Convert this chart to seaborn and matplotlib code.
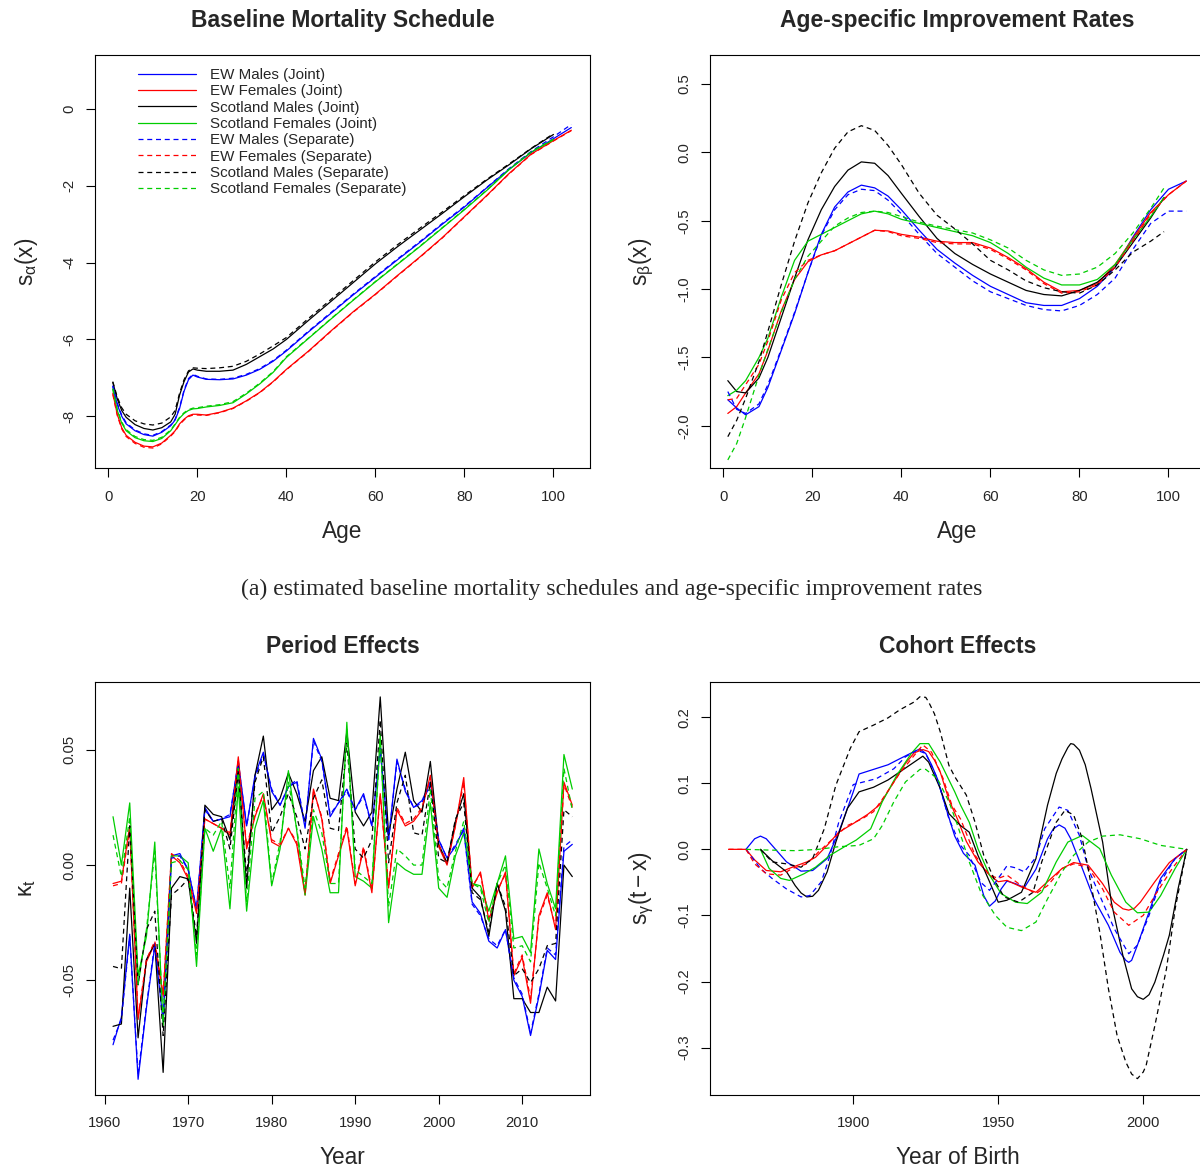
import numpy as np
import pandas as pd
import matplotlib
matplotlib.use("Agg")
import matplotlib.pyplot as plt
import seaborn as sns

# ---------------------------------------------------------------- series
SERIES = [
    "EW Males (Joint)", "EW Females (Joint)",
    "Scotland Males (Joint)", "Scotland Females (Joint)",
    "EW Males (Separate)", "EW Females (Separate)",
    "Scotland Males (Separate)", "Scotland Females (Separate)",
]
COLOURS = ["#0000FF", "#FF0000", "#000000", "#00CD00"] * 2
DASHES = [""] * 4 + [(4, 3)] * 4

# ---------------------------------------------------------------- baseline mortality s_alpha(x)
age_a_ew = [1, 2, 3, 4, 6, 8, 10, 12, 14, 15, 16, 17, 18, 19, 20, 22, 25, 28, 31, 34,
            37, 40, 45, 50, 55, 60, 65, 70, 75, 80, 85, 90, 95, 100, 104]
age_a_sc = age_a_ew[:-1]

alpha_ewm_joint = [-7.23, -7.70, -8.00, -8.20, -8.38, -8.48, -8.52, -8.42, -8.25, -8.10,
                   -7.80, -7.35, -7.05, -6.93, -6.98, -7.04, -7.05, -7.03, -6.93, -6.78,
                   -6.57, -6.30, -5.80, -5.32, -4.84, -4.38, -3.92, -3.47, -3.00, -2.55,
                   -2.05, -1.57, -1.13, -0.77, -0.48]
alpha_ewf_joint = [-7.40, -7.95, -8.30, -8.50, -8.68, -8.78, -8.80, -8.70, -8.50, -8.38,
                   -8.20, -8.08, -7.99, -7.95, -7.95, -7.97, -7.90, -7.79, -7.60, -7.38,
                   -7.10, -6.78, -6.30, -5.78, -5.28, -4.82, -4.33, -3.85, -3.35, -2.80,
                   -2.25, -1.68, -1.17, -0.82, -0.55]
alpha_scm_joint = [-7.12, -7.55, -7.85, -8.03, -8.22, -8.32, -8.36, -8.30, -8.15, -7.95,
                   -7.45, -7.10, -6.85, -6.77, -6.80, -6.83, -6.83, -6.80, -6.65, -6.45,
                   -6.25, -6.00, -5.50, -5.01, -4.52, -4.03, -3.58, -3.15, -2.72, -2.28,
                   -1.85, -1.45, -1.03, -0.66]
alpha_scf_joint = [-7.30, -7.85, -8.18, -8.38, -8.56, -8.64, -8.66, -8.58, -8.38, -8.22,
                   -8.05, -7.93, -7.85, -7.81, -7.80, -7.76, -7.72, -7.65, -7.42, -7.16,
                   -6.86, -6.47, -5.97, -5.47, -4.98, -4.50, -4.04, -3.58, -3.10, -2.62,
                   -2.12, -1.58, -1.12, -0.80]
alpha_ewm_sep = [-7.20, -7.66, -7.97, -8.17, -8.36, -8.46, -8.50, -8.40, -8.23, -8.08,
                 -7.77, -7.32, -7.02, -6.91, -6.96, -7.03, -7.04, -7.01, -6.91, -6.76,
                 -6.55, -6.28, -5.78, -5.30, -4.82, -4.36, -3.90, -3.45, -2.98, -2.53,
                 -2.04, -1.55, -1.10, -0.72, -0.40]
alpha_ewf_sep = [-7.43, -7.98, -8.33, -8.53, -8.71, -8.81, -8.83, -8.72, -8.52, -8.40,
                 -8.22, -8.10, -8.01, -7.97, -7.97, -7.98, -7.91, -7.80, -7.61, -7.39,
                 -7.11, -6.79, -6.31, -5.79, -5.29, -4.83, -4.34, -3.86, -3.36, -2.81,
                 -2.26, -1.69, -1.18, -0.83, -0.56]
alpha_scm_sep = [-7.10, -7.50, -7.78, -7.95, -8.12, -8.20, -8.23, -8.18, -8.02, -7.85,
                 -7.40, -7.05, -6.82, -6.74, -6.75, -6.76, -6.74, -6.70, -6.57, -6.38,
                 -6.17, -5.95, -5.45, -4.96, -4.47, -3.98, -3.53, -3.10, -2.68, -2.25,
                 -1.83, -1.43, -1.02, -0.64]
alpha_scf_sep = [-7.28, -7.82, -8.15, -8.35, -8.53, -8.61, -8.63, -8.55, -8.36, -8.20,
                 -8.03, -7.91, -7.83, -7.79, -7.78, -7.74, -7.70, -7.62, -7.40, -7.14,
                 -6.84, -6.45, -5.96, -5.46, -4.97, -4.49, -4.03, -3.57, -3.09, -2.61,
                 -2.11, -1.57, -1.11, -0.78]

# ---------------------------------------------------------------- improvement rates s_beta(x)
age_b_ew = [1, 3, 5, 8, 10, 13, 16, 19, 22, 25, 28, 31, 34, 37, 40, 44, 48, 52, 56, 60,
            64, 68, 72, 76, 80, 84, 88, 92, 96, 100, 104]
age_b_sc = age_b_ew[:-2] + [99]

beta_ewm_joint = [-1.81, -1.87, -1.92, -1.86, -1.72, -1.45, -1.18, -0.88, -0.60, -0.40,
                  -0.29, -0.24, -0.26, -0.32, -0.42, -0.57, -0.71, -0.81, -0.90, -0.98,
                  -1.04, -1.10, -1.12, -1.12, -1.07, -0.98, -0.84, -0.62, -0.42, -0.27,
                  -0.21]
beta_ewf_joint = [-1.91, -1.86, -1.76, -1.62, -1.45, -1.16, -0.93, -0.80, -0.75, -0.72,
                  -0.67, -0.62, -0.57, -0.575, -0.60, -0.62, -0.65, -0.66, -0.66, -0.70,
                  -0.77, -0.85, -0.95, -1.02, -1.01, -0.96, -0.82, -0.63, -0.44, -0.31,
                  -0.21]
beta_scm_joint = [-1.67, -1.75, -1.76, -1.65, -1.50, -1.21, -0.92, -0.64, -0.42, -0.25,
                  -0.13, -0.07, -0.08, -0.17, -0.30, -0.47, -0.63, -0.74, -0.82, -0.89,
                  -0.95, -1.01, -1.04, -1.05, -1.01, -0.95, -0.84, -0.66, -0.48, -0.33]
beta_scf_joint = [-1.78, -1.74, -1.67, -1.50, -1.36, -1.06, -0.79, -0.65, -0.60, -0.55,
                  -0.50, -0.45, -0.43, -0.45, -0.49, -0.52, -0.55, -0.58, -0.61, -0.66,
                  -0.74, -0.84, -0.92, -0.97, -0.97, -0.93, -0.82, -0.64, -0.47, -0.33]
beta_ewm_sep = [-1.75, -1.88, -1.91, -1.84, -1.70, -1.44, -1.17, -0.88, -0.61, -0.42,
                -0.31, -0.27, -0.28, -0.35, -0.45, -0.60, -0.74, -0.84, -0.94, -1.02,
                -1.07, -1.12, -1.15, -1.16, -1.12, -1.04, -0.92, -0.71, -0.52, -0.43,
                -0.43]
beta_ewf_sep = [-1.81, -1.80, -1.70, -1.55, -1.38, -1.08, -0.88, -0.79, -0.75, -0.72,
                -0.67, -0.62, -0.57, -0.58, -0.61, -0.63, -0.66, -0.67, -0.67, -0.71,
                -0.78, -0.86, -0.96, -1.03, -1.02, -0.97, -0.84, -0.65, -0.45, -0.31,
                -0.21]
beta_scm_sep = [-2.08, -1.96, -1.80, -1.53, -1.31, -0.97, -0.65, -0.37, -0.15, 0.03,
                0.15, 0.195, 0.16, 0.05, -0.09, -0.30, -0.46, -0.56, -0.67, -0.79,
                -0.86, -0.94, -0.99, -1.02, -1.03, -0.97, -0.86, -0.73, -0.65, -0.58]
beta_scf_sep = [-2.25, -2.13, -1.94, -1.63, -1.44, -1.17, -0.93, -0.76, -0.65, -0.54,
                -0.48, -0.44, -0.43, -0.44, -0.47, -0.51, -0.54, -0.565, -0.59, -0.64,
                -0.70, -0.79, -0.86, -0.90, -0.89, -0.84, -0.74, -0.59, -0.41, -0.26]

# ---------------------------------------------------------------- period effects kappa_t
years = list(range(1961, 2017))

kappa_ewm_joint = [-0.078, -0.066, -0.030, -0.093, -0.062, -0.035, -0.068, 0.004, 0.005, -0.002,
                   -0.019, 0.025, 0.019, 0.020, 0.021, 0.045, 0.017, 0.039, 0.049, 0.032,
                   0.026, 0.034, 0.036, 0.016, 0.055, 0.046, 0.021, 0.027, 0.033, 0.024,
                   0.031, 0.017, 0.050, 0.011, 0.046, 0.032, 0.025, 0.028, 0.036, 0.011,
                   0.003, 0.008, 0.016, -0.016, -0.021, -0.033, -0.036, -0.028, -0.050, -0.057,
                   -0.074, -0.057, -0.037, -0.041, 0.006, 0.009]
kappa_ewf_joint = [-0.008, -0.007, 0.017, -0.067, -0.042, -0.034, -0.057, 0.004, 0.001, -0.006,
                   -0.021, 0.020, 0.018, 0.016, 0.013, 0.047, 0.007, 0.021, 0.031, 0.010,
                   0.008, 0.016, 0.009, -0.013, 0.033, 0.020, -0.008, 0.004, 0.016, -0.009,
                   0.007, -0.012, 0.031, -0.010, 0.024, 0.017, 0.019, 0.024, 0.039, 0.008,
                   0.000, 0.017, 0.038, -0.010, -0.003, -0.024, -0.012, -0.003, -0.048, -0.040,
                   -0.060, -0.022, -0.012, -0.028, 0.036, 0.026]
kappa_scm_joint = [-0.070, -0.069, -0.010, -0.075, -0.041, -0.034, -0.090, -0.010, -0.005, -0.006,
                   -0.034, 0.026, 0.022, 0.021, 0.011, 0.043, -0.010, 0.039, 0.056, 0.024,
                   0.029, 0.040, 0.031, 0.019, 0.041, 0.047, 0.029, 0.028, 0.058, 0.023,
                   0.017, 0.023, 0.073, 0.013, 0.033, 0.049, 0.028, 0.023, 0.045, 0.009,
                   0.001, 0.019, 0.031, -0.010, -0.014, -0.031, -0.008, -0.020, -0.058, -0.058,
                   -0.064, -0.064, -0.053, -0.059, 0.000, -0.005]
kappa_scf_joint = [0.021, 0.000, 0.027, -0.048, -0.031, 0.010, -0.070, 0.004, 0.004, 0.001,
                   -0.044, 0.016, 0.006, 0.016, -0.019, 0.034, -0.020, 0.016, 0.028, -0.009,
                   0.007, 0.041, 0.015, -0.013, 0.021, 0.007, -0.012, -0.012, 0.062, -0.005,
                   -0.007, -0.010, 0.057, -0.025, 0.001, -0.002, -0.004, -0.004, 0.027, -0.010,
                   -0.014, 0.004, 0.014, -0.008, -0.009, -0.020, -0.008, 0.004, -0.032, -0.031,
                   -0.038, 0.007, -0.008, -0.019, 0.048, 0.033]
kappa_ewm_sep = [-0.076, -0.067, -0.031, -0.091, -0.061, -0.034, -0.067, 0.003, 0.004, -0.002,
                 -0.019, 0.024, 0.019, 0.020, 0.022, 0.044, 0.017, 0.038, 0.048, 0.033,
                 0.026, 0.034, 0.037, 0.017, 0.054, 0.045, 0.022, 0.027, 0.032, 0.024,
                 0.030, 0.017, 0.051, 0.011, 0.045, 0.033, 0.025, 0.027, 0.035, 0.011,
                 0.003, 0.009, 0.015, -0.017, -0.022, -0.032, -0.035, -0.028, -0.049, -0.056,
                 -0.073, -0.056, -0.036, -0.039, 0.008, 0.011]
kappa_ewf_sep = [-0.009, -0.008, 0.016, -0.066, -0.041, -0.033, -0.056, 0.005, 0.002, -0.005,
                 -0.020, 0.020, 0.018, 0.016, 0.014, 0.046, 0.008, 0.022, 0.030, 0.011,
                 0.009, 0.016, 0.010, -0.012, 0.032, 0.021, -0.007, 0.005, 0.017, -0.008,
                 0.008, -0.011, 0.030, -0.009, 0.025, 0.018, 0.020, 0.025, 0.038, 0.009,
                 0.001, 0.017, 0.036, -0.009, -0.004, -0.023, -0.011, -0.004, -0.047, -0.039,
                 -0.058, -0.023, -0.013, -0.027, 0.035, 0.025]
kappa_scm_sep = [-0.044, -0.045, 0.017, -0.052, -0.028, -0.020, -0.074, -0.013, -0.010, -0.006,
                 -0.031, 0.024, 0.019, 0.020, 0.007, 0.040, -0.005, 0.036, 0.047, 0.014,
                 0.021, 0.031, 0.021, 0.007, 0.029, 0.037, 0.016, 0.015, 0.053, 0.007,
                 0.003, 0.011, 0.063, 0.001, 0.027, 0.039, 0.014, 0.013, 0.036, 0.003,
                 0.001, 0.020, 0.027, -0.012, -0.015, -0.029, -0.008, -0.018, -0.048, -0.045,
                 -0.051, -0.045, -0.035, -0.034, 0.024, 0.021]
kappa_scf_sep = [0.013, -0.005, 0.021, -0.052, -0.028, 0.006, -0.068, 0.001, 0.002, -0.002,
                 -0.039, 0.016, 0.013, 0.019, -0.010, 0.042, -0.016, 0.029, 0.032, -0.008,
                 0.010, 0.036, 0.016, -0.010, 0.024, 0.014, -0.008, -0.008, 0.059, -0.002,
                 -0.005, -0.008, 0.055, -0.018, 0.007, 0.004, 0.000, 0.000, 0.033, -0.006,
                 -0.010, 0.006, 0.019, -0.008, -0.010, -0.025, -0.008, 0.000, -0.036, -0.035,
                 -0.042, 0.001, -0.010, -0.022, 0.042, 0.024]

# ---------------------------------------------------------------- cohort effects s_gamma(t-x)
coh_ewm_joint_x = [1863, 1866, 1868, 1870, 1872, 1877, 1882, 1886, 1891, 1895, 1898, 1900,
                   1902, 1907, 1912, 1916, 1921, 1923, 1925, 1927, 1929, 1932, 1935, 1938,
                   1942, 1945, 1947, 1949, 1951, 1953, 1956, 1959, 1963, 1967, 1969, 1971,
                   1973, 1975, 1979, 1983, 1988, 1992, 1994, 1995, 1996, 1998, 2002, 2006,
                   2011, 2015]
coh_ewm_joint_y = [0.0, 0.016, 0.020, 0.016, 0.006, -0.019, -0.033, -0.032, -0.014, 0.026,
                   0.062, 0.087, 0.114, 0.121, 0.128, 0.137, 0.148, 0.152, 0.145, 0.128,
                   0.107, 0.062, 0.020, -0.006, -0.024, -0.070, -0.086, -0.078, -0.060,
                   -0.048, -0.052, -0.058, -0.030, 0.016, 0.031, 0.037, 0.032, 0.016,
                   -0.029, -0.075, -0.115, -0.156, -0.168, -0.171, -0.168, -0.145, -0.095,
                   -0.044, -0.014, 0.0]
coh_ewf_joint_x = [1857, 1860, 1863, 1866, 1870, 1875, 1879, 1884, 1887, 1891, 1895, 1900,
                   1905, 1909, 1914, 1918, 1921, 1924, 1926, 1928, 1930, 1933, 1936, 1939,
                   1943, 1947, 1950, 1953, 1958, 1963, 1967, 1972, 1976, 1981, 1986, 1990,
                   1993, 1995, 1997, 1999, 2004, 2009, 2015]
coh_ewf_joint_y = [0.0, 0.0, 0.0, -0.016, -0.032, -0.034, -0.027, -0.019, -0.012, 0.006,
                   0.026, 0.039, 0.053, 0.067, 0.102, 0.130, 0.146, 0.151, 0.148, 0.135,
                   0.117, 0.075, 0.045, 0.012, -0.019, -0.039, -0.049, -0.047, -0.057,
                   -0.065, -0.049, -0.029, -0.020, -0.024, -0.052, -0.080, -0.090, -0.092,
                   -0.089, -0.080, -0.049, -0.020, 0.0]
coh_scm_joint_x = [1868, 1872, 1877, 1880, 1882, 1884, 1886, 1888, 1891, 1894, 1898, 1902,
                   1907, 1912, 1916, 1921, 1924, 1926, 1930, 1933, 1937, 1940, 1943, 1947,
                   1950, 1953, 1958, 1963, 1967, 1970, 1972, 1974, 1975, 1976, 1978, 1980,
                   1982, 1986, 1989, 1993, 1996, 1998, 2000, 2002, 2004, 2007, 2009, 2012,
                   2015]
coh_scm_joint_y = [0.0, -0.017, -0.034, -0.055, -0.066, -0.072, -0.071, -0.062, -0.034, 0.011,
                   0.062, 0.087, 0.094, 0.105, 0.117, 0.132, 0.141, 0.132, 0.092, 0.054,
                   0.036, 0.026, -0.009, -0.049, -0.080, -0.077, -0.065, -0.014, 0.067,
                   0.115, 0.137, 0.154, 0.160, 0.159, 0.150, 0.128, 0.092, 0.011, -0.080,
                   -0.161, -0.211, -0.223, -0.227, -0.220, -0.201, -0.160, -0.130, -0.060,
                   0.0]
coh_scf_joint_x = [1868, 1871, 1875, 1878, 1883, 1887, 1892, 1897, 1901, 1906, 1910, 1915,
                   1920, 1923, 1926, 1930, 1935, 1937, 1940, 1943, 1947, 1951, 1956, 1960,
                   1965, 1970, 1974, 1979, 1985, 1989, 1994, 1998, 2002, 2006, 2011, 2015]
coh_scf_joint_y = [0.0, -0.029, -0.044, -0.047, -0.037, -0.027, -0.009, 0.004, 0.014, 0.031,
                   0.072, 0.112, 0.145, 0.160, 0.160, 0.132, 0.087, 0.067, 0.041, 0.001,
                   -0.039, -0.067, -0.080, -0.082, -0.065, -0.019, 0.011, 0.021, 0.001,
                   -0.039, -0.080, -0.096, -0.095, -0.070, -0.029, 0.0]
coh_ewm_sep_x = [1863, 1868, 1872, 1877, 1882, 1885, 1889, 1892, 1895, 1900, 1908, 1914,
                 1918, 1922, 1925, 1929, 1933, 1937, 1940, 1944, 1947, 1950, 1953, 1956,
                 1959, 1963, 1966, 1971, 1974, 1978, 1981, 1986, 1990, 1995, 1998, 2002,
                 2006, 2011, 2015]
coh_ewm_sep_y = [0.0, -0.029, -0.044, -0.060, -0.072, -0.070, -0.049, -0.009, 0.041, 0.098,
                 0.107, 0.122, 0.140, 0.150, 0.145, 0.107, 0.046, 0.006, -0.009, -0.050,
                 -0.062, -0.044, -0.025, -0.028, -0.034, -0.012, 0.031, 0.064, 0.059,
                 0.021, -0.029, -0.080, -0.120, -0.158, -0.145, -0.100, -0.049, -0.014, 0.0]
coh_ewf_sep_x = [1857, 1860, 1863, 1866, 1870, 1875, 1879, 1884, 1888, 1893, 1898, 1903,
                 1907, 1911, 1916, 1921, 1924, 1927, 1931, 1934, 1937, 1942, 1947, 1950,
                 1953, 1958, 1963, 1967, 1972, 1976, 1981, 1986, 1990, 1995, 2000, 2004,
                 2010, 2015]
coh_ewf_sep_y = [0.0, 0.0, 0.0, -0.022, -0.037, -0.039, -0.029, -0.022, -0.004, 0.016,
                 0.036, 0.046, 0.057, 0.082, 0.115, 0.142, 0.158, 0.147, 0.107, 0.067,
                 0.046, -0.009, -0.039, -0.044, -0.039, -0.055, -0.067, -0.055, -0.029,
                 -0.022, -0.027, -0.060, -0.095, -0.115, -0.100, -0.070, -0.029, 0.0]
coh_scm_sep_x = [1868, 1872, 1877, 1882, 1886, 1890, 1894, 1899, 1902, 1907, 1912, 1916,
                 1921, 1923, 1925, 1926, 1928, 1930, 1933, 1935, 1939, 1942, 1945, 1949,
                 1952, 1957, 1962, 1965, 1970, 1973, 1976, 1979, 1981, 1985, 1988, 1991,
                 1994, 1996, 1998, 2000, 2001, 2004, 2008, 2011, 2015]
coh_scm_sep_y = [0.0, -0.019, -0.022, -0.027, -0.014, 0.031, 0.097, 0.153, 0.178, 0.188,
                 0.199, 0.211, 0.223, 0.231, 0.230, 0.223, 0.205, 0.178, 0.127, 0.110,
                 0.082, 0.041, -0.009, -0.049, -0.072, -0.080, -0.065, -0.019, 0.041,
                 0.059, 0.052, 0.016, -0.029, -0.125, -0.211, -0.282, -0.322, -0.340,
                 -0.347, -0.337, -0.327, -0.267, -0.181, -0.090, 0.0]
coh_scf_sep_x = [1863, 1870, 1880, 1888, 1895, 1902, 1907, 1910, 1914, 1918, 1923, 1925,
                 1929, 1933, 1936, 1940, 1944, 1949, 1953, 1958, 1963, 1967, 1972, 1976,
                 1981, 1986, 1992, 1999, 2006, 2015]
coh_scf_sep_y = [0.0, -0.001, -0.002, 0.0, 0.004, 0.006, 0.016, 0.036, 0.072, 0.102,
                 0.121, 0.121, 0.107, 0.072, 0.036, -0.019, -0.065, -0.100, -0.118, -0.123,
                 -0.110, -0.075, -0.034, -0.009, 0.011, 0.020, 0.022, 0.016, 0.006, 0.0]

# ---------------------------------------------------------------- styling
LW = 0.9
TITLE_FS = 16.5
LABEL_FS = 16.3
TICK_FS = 10.7
LEGEND_FS = 10.9

sns.set_style("white")
plt.rcParams.update({
    "font.family": ["Liberation Sans", "DejaVu Sans"],
    "axes.unicode_minus": False,
    "mathtext.fontset": "custom",
    "mathtext.rm": "Liberation Sans",
    "mathtext.it": "Liberation Sans:italic",
    "mathtext.default": "regular",
    "axes.edgecolor": "black",
    "axes.linewidth": 0.8,
})


def long_frame(xs_list, ys_list):
    parts = [pd.DataFrame({"x": xs, "y": ys, "series": name})
             for name, xs, ys in zip(SERIES, xs_list, ys_list)]
    return pd.concat(parts, ignore_index=True)


def draw_panel(ax, df, legend=False):
    sns.lineplot(data=df, x="x", y="y", hue="series", style="series",
                 hue_order=SERIES, style_order=SERIES,
                 palette=dict(zip(SERIES, COLOURS)),
                 dashes=dict(zip(SERIES, DASHES)),
                 sort=False, estimator=None, linewidth=LW,
                 legend=legend, ax=ax)


def dress(ax, title, xlabel, ylabel, xlim, ylim, xticks, yticks, yticklabels):
    ax.set_xlim(*xlim)
    ax.set_ylim(*ylim)
    ax.set_xticks(xticks, [str(t) for t in xticks], fontsize=TICK_FS)
    ax.set_yticks(yticks, yticklabels, fontsize=TICK_FS, rotation=90, va="center")
    ax.tick_params(axis="both", which="major", bottom=True, left=True,
                   direction="out", length=6.5, width=0.8, color="black")
    ax.tick_params(axis="x", pad=9)
    ax.tick_params(axis="y", pad=7)
    for sp in ax.spines.values():
        sp.set_visible(True)
        sp.set_color("black")
        sp.set_linewidth(0.8)
    ax.set_xlabel(xlabel, fontsize=LABEL_FS, va="center")
    ax.xaxis.set_label_coords(0.5, -63 / 413)
    ax.set_ylabel(ylabel, fontsize=LABEL_FS, va="center")
    ax.yaxis.set_label_coords(-68 / 495, 0.5)
    ax.text(0.5, 1 + 35 / 413, title, transform=ax.transAxes,
            ha="center", va="center", fontsize=TITLE_FS, fontweight="bold")


W, H = 1200, 1169
fig = plt.figure(figsize=(W / 100, H / 100), dpi=100)


def axes_at(left, top, width, height):
    return fig.add_axes([left / W, 1 - (top + height) / H, width / W, height / H])


ax1 = axes_at(95, 55, 495, 413)
ax2 = axes_at(710, 55, 495, 413)
ax3 = axes_at(95, 681.5, 495, 413)
ax4 = axes_at(710, 681.5, 495, 413)

# top left: baseline schedules
df_alpha = long_frame(
    [age_a_ew, age_a_ew, age_a_sc, age_a_sc, age_a_ew, age_a_ew, age_a_sc, age_a_sc],
    [alpha_ewm_joint, alpha_ewf_joint, alpha_scm_joint, alpha_scf_joint,
     alpha_ewm_sep, alpha_ewf_sep, alpha_scm_sep, alpha_scf_sep])
draw_panel(ax1, df_alpha, legend=True)
dress(ax1, "Baseline Mortality Schedule", "Age", r"$s_{\alpha}(x)$",
      (-3.0, 108.2), (-9.35, 1.41), [0, 20, 40, 60, 80, 100],
      [-8, -6, -4, -2, 0], ["-8", "-6", "-4", "-2", "0"])
sns.move_legend(ax1, "upper left", bbox_to_anchor=(0.087, 0.968), frameon=False,
                title=None, fontsize=LEGEND_FS, handlelength=3.8, handletextpad=0.95,
                labelspacing=0.15, borderaxespad=0, borderpad=0)

# top right: improvement rates
df_beta = long_frame(
    [age_b_ew, age_b_ew, age_b_sc, age_b_sc, age_b_ew, age_b_ew, age_b_sc, age_b_sc],
    [beta_ewm_joint, beta_ewf_joint, beta_scm_joint, beta_scf_joint,
     beta_ewm_sep, beta_ewf_sep, beta_scm_sep, beta_scf_sep])
draw_panel(ax2, df_beta)
dress(ax2, "Age-specific Improvement Rates", "Age", r"$s_{\beta}(x)$",
      (-3.0, 108.2), (-2.309, 0.712), [0, 20, 40, 60, 80, 100],
      [-2.0, -1.5, -1.0, -0.5, 0.0, 0.5], ["-2.0", "-1.5", "-1.0", "-0.5", "0.0", "0.5"])

# bottom left: period effects
df_kappa = long_frame(
    [years] * 8,
    [kappa_ewm_joint, kappa_ewf_joint, kappa_scm_joint, kappa_scf_joint,
     kappa_ewm_sep, kappa_ewf_sep, kappa_scm_sep, kappa_scf_sep])
draw_panel(ax3, df_kappa)
dress(ax3, "Period Effects", "Year", r"$\kappa_t$",
      (1958.84, 2018.12), (-0.0996, 0.0797), [1960, 1970, 1980, 1990, 2000, 2010],
      [-0.05, 0.0, 0.05], ["-0.05", "0.00", "0.05"])

# bottom right: cohort effects
df_gamma = long_frame(
    [coh_ewm_joint_x, coh_ewf_joint_x, coh_scm_joint_x, coh_scf_joint_x,
     coh_ewm_sep_x, coh_ewf_sep_x, coh_scm_sep_x, coh_scf_sep_x],
    [coh_ewm_joint_y, coh_ewf_joint_y, coh_scm_joint_y, coh_scf_joint_y,
     coh_ewm_sep_y, coh_ewf_sep_y, coh_scm_sep_y, coh_scf_sep_y])
draw_panel(ax4, df_gamma)
dress(ax4, "Cohort Effects", "Year of Birth", r"$s_{\gamma}(t-x)$",
      (1850.6, 2021.3), (-0.371, 0.254), [1900, 1950, 2000],
      [-0.3, -0.2, -0.1, 0.0, 0.1, 0.2], ["-0.3", "-0.2", "-0.1", "0.0", "0.1", "0.2"])

fig.text(612 / W, 1 - 589 / H,
         "(a) estimated baseline mortality schedules and age-specific improvement rates",
         ha="center", va="center", fontsize=17.1, family=["Liberation Serif", "DejaVu Serif"])

fig.savefig("out.png", dpi=100)
